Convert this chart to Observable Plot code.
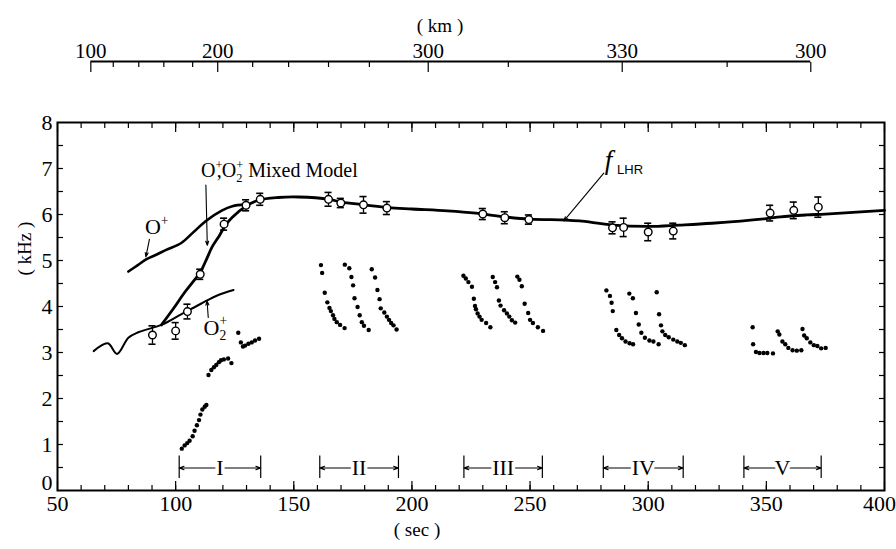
<!DOCTYPE html>
<html><head><meta charset="utf-8">
<script src="https://cdn.jsdelivr.net/npm/d3@7"></script>
<script src="https://cdn.jsdelivr.net/npm/@observablehq/plot@0.6"></script>
<style>body{margin:0;background:#fff;} svg{display:block;}</style>
</head><body><div id="chart"></div>
<script>
// ---------- data (time in sec, frequency in kHz) ----------
const mixSec = [94, 99, 104, 108, 110.5, 113, 115.5, 118.5, 121, 124, 129.5, 135, 143.5, 152, 165, 170, 180, 190, 200, 215, 227, 239, 250, 265, 271, 285, 300, 313, 327, 350, 356, 367, 375, 400];
const mixKHz = [3.60, 3.95, 4.32, 4.58, 4.75, 5.02, 5.30, 5.54, 5.76, 5.94, 6.17, 6.31, 6.37, 6.38, 6.33, 6.27, 6.21, 6.15, 6.12, 6.08, 6.03, 5.95, 5.90, 5.88, 5.86, 5.77, 5.74, 5.77, 5.81, 5.91, 5.95, 5.99, 6.01, 6.09];
const opSec = [80, 84, 87.7, 92, 96, 102.4, 107.2, 112.8, 119.7, 124, 129.5];
const opKHz = [4.76, 4.90, 5.03, 5.13, 5.23, 5.38, 5.60, 5.86, 6.09, 6.18, 6.22];
const o2Sec = [65.3, 71.3, 75.2, 80, 84.2, 94, 102.3, 110.7, 117.6, 124.5];
const o2KHz = [3.03, 3.20, 2.97, 3.32, 3.44, 3.60, 3.83, 4.06, 4.24, 4.36];

const circSec = [90.2, 100, 105, 110.4, 120.5, 129.8, 135.8, 164.7, 169.9, 179.5, 189.4, 230, 239.3, 249.5, 284.9, 289.6, 300, 310.6, 351.6, 361.6, 372];
const circKHz = [3.38, 3.47, 3.89, 4.70, 5.79, 6.20, 6.33, 6.33, 6.25, 6.21, 6.14, 6.01, 5.93, 5.89, 5.71, 5.72, 5.62, 5.64, 6.03, 6.09, 6.16];
const circErr = [0.20, 0.18, 0.16, 0.11, 0.13, 0.12, 0.13, 0.15, 0.10, 0.18, 0.14, 0.12, 0.13, 0.10, 0.13, 0.20, 0.19, 0.17, 0.17, 0.18, 0.22];

const g1Sec = [102.6, 103.8, 104.9, 105.9, 107.2, 108, 109, 109.9, 110.5, 111.3, 112.3, 113, 113.9, 115.1, 116.2, 117.2, 118.3, 119.2, 120.4, 122.2, 123.6, 126.5, 127.6, 128.5, 129.4, 130.8, 132.2, 133.6, 135.3];
const g1KHz = [0.91, 0.98, 1.03, 1.08, 1.18, 1.30, 1.42, 1.53, 1.65, 1.76, 1.82, 1.86, 2.51, 2.62, 2.68, 2.73, 2.79, 2.83, 2.85, 2.87, 2.77, 3.43, 3.22, 3.13, 3.15, 3.19, 3.22, 3.26, 3.30];
const g2Sec = [161.5, 162, 163.1, 164.2, 165.1, 165.7, 166.6, 167.2, 168.2, 169.6, 171.5, 171.6, 173.5, 174.4, 175.1, 175.7, 177, 177.9, 178.8, 179.7, 181.7, 183, 184.4, 185.4, 186.3, 186.8, 188.3, 189.4, 190.3, 191.2, 192.2, 193.5];
const g2KHz = [4.90, 4.73, 4.30, 4.09, 3.97, 3.90, 3.81, 3.73, 3.66, 3.60, 3.53, 4.91, 4.83, 4.64, 4.46, 4.18, 3.99, 3.81, 3.66, 3.58, 3.49, 4.81, 4.63, 4.36, 4.16, 3.96, 3.87, 3.78, 3.71, 3.64, 3.59, 3.50];
const g3Sec = [221.8, 222.8, 223.9, 225.4, 226.2, 226.7, 227.1, 227.8, 228.6, 229.5, 231.4, 233.2, 234.2, 235.2, 236, 236.8, 237.5, 239, 240.2, 241.2, 242.3, 243.7, 244.6, 245.5, 246.5, 247.7, 249.2, 250, 251.2, 253.3, 255.5];
const g3KHz = [4.67, 4.61, 4.53, 4.43, 4.17, 4.01, 3.94, 3.85, 3.78, 3.71, 3.64, 3.55, 4.64, 4.53, 4.42, 4.13, 4.02, 3.92, 3.85, 3.78, 3.70, 3.65, 4.65, 4.58, 4.44, 4.06, 3.86, 3.71, 3.64, 3.55, 3.47];
const g4Sec = [282.3, 283.8, 284.5, 285, 286.5, 287.7, 288.9, 290.4, 292.1, 293.6, 292, 293.5, 294.8, 296, 297.1, 298.6, 300.5, 302.2, 304.4, 303.6, 304.6, 305.4, 306, 307.2, 308.7, 310.6, 312.3, 313.8, 315.5];
const g4KHz = [4.35, 4.23, 4.08, 3.90, 3.49, 3.38, 3.31, 3.24, 3.20, 3.18, 4.28, 4.18, 3.86, 3.61, 3.43, 3.32, 3.26, 3.24, 3.18, 4.31, 3.83, 3.59, 3.46, 3.38, 3.33, 3.28, 3.24, 3.21, 3.16];
const g5Sec = [344.2, 344.4, 345.6, 347.1, 348.8, 350.4, 352.8, 354.8, 355.5, 356.8, 358, 359.3, 361.1, 362.9, 364.8, 365.3, 366, 367.1, 368.6, 370.1, 371.6, 373.2, 375.1];
const g5KHz = [3.55, 3.18, 3.01, 2.99, 2.99, 2.99, 2.98, 3.46, 3.39, 3.24, 3.18, 3.10, 3.05, 3.04, 3.05, 3.51, 3.37, 3.31, 3.22, 3.16, 3.14, 3.09, 3.10];

const intLabels = ["I", "II", "III", "IV", "V"];
const intStart = [101.5, 161, 222, 281, 340.5];
const intEnd = [136, 194.3, 255.2, 314.8, 373.2];
const intLevel = 0.49;

const xMajor = [50, 100, 150, 200, 250, 300, 350, 400];
const yMajor = [1, 2, 3, 4, 5, 6, 7, 8];
const kmMajorSec = [64.1, 117.8, 206.9, 289.0, 368.8];
const kmMajorLabel = ["100", "200", "300", "330", "300"];
const kmMinorSec = [73.6, 84.4, 95.0, 107.2, 132.6, 147.8, 164.7, 182.0, 240.8, 333.4];

const annText = ["O+", "O2+", "O+,O2+ Mixed Model"];
const annSec = [92, 116.8, 110.7];
const annKHz = [5.73, 3.54, 6.95];
const annAnchor = ["middle", "middle", "start"];
const arrX1 = [88.9, 113.8, 112.8, 281.2];
const arrY1 = [5.46, 3.76, 6.64, 6.90];
const arrX2 = [87.4, 113.3, 113.4, 264.3];
const arrY2 = [5.08, 4.12, 5.33, 5.86];

// ---------- build ----------
const serif = "Liberation Serif, DejaVu Serif, serif";
const zip = (xs, ys) => xs.map((x, i) => ({x, y: ys[i]}));
const circ = circSec.map((x, i) => ({x, y: circKHz[i], e: circErr[i]}));
const dots = [].concat(zip(g1Sec, g1KHz), zip(g2Sec, g2KHz), zip(g3Sec, g3KHz), zip(g4Sec, g4KHz), zip(g5Sec, g5KHz));
const ints = intLabels.map((t, i) => ({t, a: intStart[i], b: intEnd[i], m: (intStart[i] + intEnd[i]) / 2}));
const ann = annText.map((t, i) => ({t, x: annSec[i], y: annKHz[i], anchor: annAnchor[i]}));
const arrs = arrX1.map((x1, i) => ({x1, y1: arrY1[i], x2: arrX2[i], y2: arrY2[i]}));
const cap = 1.5;
const kmLabelOf = new Map(kmMajorSec.map((s, i) => [s, kmMajorLabel[i]]));
const none = () => "";
const xLab = xMajor.slice(0, -1);
const xLast = xMajor.slice(-1);

const chart = Plot.plot({
  width: 896, height: 549,
  marginLeft: 57, marginRight: 12, marginTop: 122, marginBottom: 59,
  style: {fontFamily: serif, background: "white", color: "black", overflow: "visible"},
  x: {domain: [50, 400], axis: null},
  y: {domain: [0, 8], axis: null},
  marks: [
    Plot.line(zip(o2Sec, o2KHz), {x: "x", y: "y", curve: "catmull-rom", strokeWidth: 2}),
    Plot.line(zip(opSec, opKHz), {x: "x", y: "y", curve: "catmull-rom", strokeWidth: 2.6}),
    Plot.line(zip(mixSec, mixKHz), {x: "x", y: "y", curve: "catmull-rom", strokeWidth: 2.8}),
    Plot.ruleX(circ, {x: "x", y1: d => d.y - d.e, y2: d => d.y + d.e, strokeWidth: 1.3}),
    Plot.ruleY(circ, {y: d => d.y + d.e, x1: d => d.x - cap, x2: d => d.x + cap, strokeWidth: 1.6}),
    Plot.ruleY(circ, {y: d => d.y - d.e, x1: d => d.x - cap, x2: d => d.x + cap, strokeWidth: 1.6}),
    Plot.dot(circ, {x: "x", y: "y", r: 3.8, fill: "white", stroke: "black", strokeWidth: 1.4}),
    Plot.dot(dots, {x: "x", y: "y", r: 2.2, fill: "black"}),
    // interval brackets
    Plot.ruleX(ints, {x: "a", y1: intLevel - 0.23, y2: intLevel + 0.26, strokeWidth: 1.2}),
    Plot.ruleX(ints, {x: "b", y1: intLevel - 0.23, y2: intLevel + 0.26, strokeWidth: 1.2}),
    Plot.arrow(ints, {x1: "m", x2: "a", y1: intLevel, y2: intLevel, headLength: 7, headAngle: 40, strokeWidth: 1.1}),
    Plot.arrow(ints, {x1: "m", x2: "b", y1: intLevel, y2: intLevel, headLength: 7, headAngle: 40, strokeWidth: 1.1}),
    Plot.text(ints, {x: "m", y: intLevel, text: "t", fontSize: 22, fontFamily: serif, stroke: "white", strokeWidth: 7, fill: "black"}),
    // annotations
    Plot.arrow(arrs, {x1: "x1", y1: "y1", x2: "x2", y2: "y2", headLength: 6, headAngle: 40, strokeWidth: 1.1}),
    Plot.text(ann, {x: "x", y: "y", text: "t", textAnchor: "start", filter: d => d.anchor === "start", fontSize: 20, fontFamily: serif}),
    Plot.text(ann, {x: "x", y: "y", text: "t", filter: d => d.anchor === "middle", fontSize: 22, fontFamily: serif}),
    Plot.text(["f"], {x: 283.2, y: 7.18, fontSize: 27, fontStyle: "italic", fontFamily: serif}),
    Plot.text(["LHR"], {x: 292.3, y: 6.98, fontSize: 13, fontFamily: "Liberation Sans, sans-serif"}),
    // frame ticks
    Plot.axisX(d3.range(60, 400, 10), {anchor: "bottom", tickSize: 5, dy: -5, tickFormat: none, strokeWidth: 1.2}),
    Plot.axisX(xMajor, {anchor: "bottom", tickSize: 9, dy: -9, tickFormat: none, strokeWidth: 1.2}),
    Plot.axisX(d3.range(60, 400, 10), {anchor: "top", tickSize: 5, dy: 5, tickFormat: none, strokeWidth: 1.2}),
    Plot.axisX(xMajor, {anchor: "top", tickSize: 9, dy: 9, tickFormat: none, strokeWidth: 1.2}),
    Plot.axisY(d3.range(0.5, 8, 0.5), {anchor: "left", tickSize: 6, dx: 6, tickFormat: none, strokeWidth: 1.2}),
    Plot.axisY(d3.range(0.5, 8, 0.5), {anchor: "right", tickSize: 6, dx: -6, tickFormat: none, strokeWidth: 1.2}),
    // tick labels
    Plot.axisX(xLab, {anchor: "bottom", tickSize: 0, tickPadding: 5, fontSize: 22, fontFamily: serif}),
    Plot.axisX(xLast, {anchor: "bottom", tickSize: 0, tickPadding: 5, dx: -5, fontSize: 22, fontFamily: serif}),
    Plot.axisY(yMajor, {anchor: "left", tickSize: 0, tickPadding: 5, fontSize: 22, fontFamily: serif}),
    Plot.axisY([0], {anchor: "left", tickSize: 0, tickPadding: 5, dy: -8, fontSize: 22, fontFamily: serif}),
    // km axis above
    Plot.ruleY([8], {x1: kmMajorSec[0], x2: kmMajorSec[kmMajorSec.length - 1], dy: -61, strokeWidth: 1.8}),
    Plot.axisX(kmMajorSec, {anchor: "top", tickSize: 10, dy: -51, tickPadding: 4, tickFormat: d => kmLabelOf.get(d), fontSize: 21, fontFamily: serif, strokeWidth: 1.2}),
    Plot.axisX(kmMinorSec, {anchor: "top", tickSize: 5, dy: -56, tickFormat: none, strokeWidth: 1.2}),
    // axis titles
    Plot.text(["( km )"], {frameAnchor: "top", dx: -31, dy: -104, fontSize: 19, fontFamily: serif}),
    Plot.text(["( sec )"], {frameAnchor: "bottom", dx: -54, dy: 45, fontSize: 19, fontFamily: serif}),
    Plot.text(["( kHz )"], {frameAnchor: "left", dx: -33, dy: -31, rotate: -90, fontSize: 19, fontFamily: serif}),
    Plot.frame({stroke: "black", strokeWidth: 2})
  ]
});

// serif everywhere except the small LHR subscript
d3.select(chart).selectAll("text").each(function () {
  if (this.textContent !== "LHR") this.setAttribute("font-family", serif);
});

// rich text: superscripts / subscripts for ion labels
const rich = {
  "O+": [["O"], ["+", "sup"]],
  "O2+": [["O"], ["2", "sub"], ["+", "supx"]],
  "O+,O2+ Mixed Model": [["O"], ["+", "sup"], [",", "back"], ["O"], ["2", "sub"], ["+", "supx"], [" Mixed Model"]]
};
d3.select(chart).selectAll("text").each(function () {
  const spec = rich[this.textContent];
  if (!spec) return;
  const fs = this.textContent.length > 5 ? 20 : 22;
  this.textContent = "";
  let cur = 0;
  for (const [s, k] of spec) {
    const t = document.createElementNS("http://www.w3.org/2000/svg", "tspan");
    t.textContent = s;
    let target = 0, dx = 0, size = null;
    if (k === "sup") { target = -0.42 * fs; size = 0.62 * fs; }
    if (k === "sub") { target = 0.24 * fs; size = 0.62 * fs; }
    if (k === "supx") { target = -0.42 * fs; size = 0.62 * fs; dx = -0.62 * fs * 0.5; }
    if (k === "back") { dx = -0.62 * fs * 0.45; }
    if (size) t.setAttribute("font-size", size);
    if (target !== cur) t.setAttribute("dy", target - cur);
    if (dx) t.setAttribute("dx", dx);
    cur = target;
    this.appendChild(t);
  }
});
document.getElementById("chart").appendChild(chart);
</script>
</body></html>
